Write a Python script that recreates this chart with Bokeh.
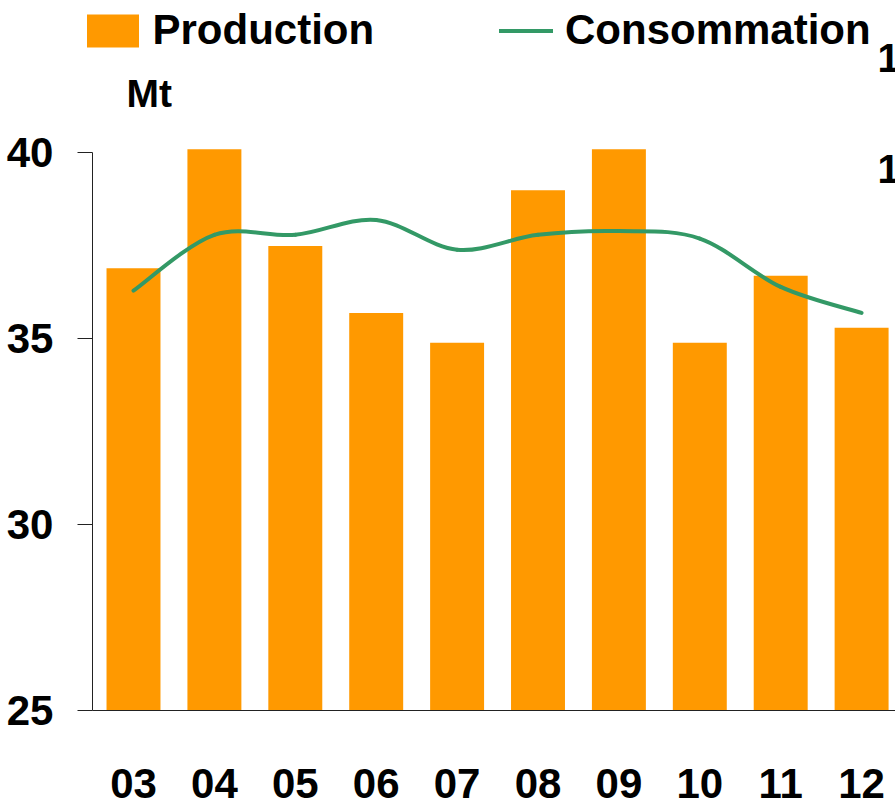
from bokeh.plotting import figure
from bokeh.models import (ColumnDataSource, Legend, LegendItem, Label,
                          FixedTicker, Range1d)
from bokeh.embed import file_html
from bokeh.resources import INLINE

# ---- data ----
years = ["03", "04", "05", "06", "07", "08", "09", "10", "11", "12"]
production = [36.9, 40.1, 37.5, 35.7, 34.9, 39.0, 40.1, 34.9, 36.7, 35.3]
consommation = [36.3, 37.8, 37.8, 38.2, 37.4, 37.8, 37.9, 37.7, 36.4, 35.7]
y_ticks = [25, 30, 35, 40]
unit_label = "Mt"
right_labels = ["1", "1"]

FONT = "Liberation Sans"
ORANGE = "#FF9900"
GREEN = "#339966"
AXIS = "#222222"

xs = list(range(len(years)))

W, H = 895, 808
# frame covers the whole canvas; axes are pinned with fixed_location
X0, X1 = -1.644, 9.419
Y0, Y1 = 22.379, 44.099
YAXIS_X = -0.507

p = figure(width=W, height=H,
           x_range=Range1d(X0, X1), y_range=Range1d(Y0, Y1),
           output_backend="svg", toolbar_location=None,
           min_border=0, min_border_left=0, min_border_right=0,
           min_border_top=0, min_border_bottom=0)
p.outline_line_color = None
p.xgrid.visible = False
p.ygrid.visible = False
p.background_fill_color = "white"
p.border_fill_color = "white"

bars = p.vbar(x=xs, top=production, bottom=y_ticks[0], width=0.667,
              fill_color=ORANGE, line_color=None)

# smoothed line (Bezier segments through the data points)
n = len(xs)
seg = dict(x0=[], y0=[], x1=[], y1=[], cx0=[], cy0=[], cx1=[], cy1=[])
for i in range(n - 1):
    im = i - 1 if i > 0 else i
    ip = i + 2 if i + 2 < n else i + 1
    seg["x0"].append(xs[i]); seg["y0"].append(consommation[i])
    seg["x1"].append(xs[i + 1]); seg["y1"].append(consommation[i + 1])
    seg["cx0"].append(xs[i] + (xs[i + 1] - xs[im]) / 6)
    seg["cy0"].append(consommation[i] + (consommation[i + 1] - consommation[im]) / 6)
    seg["cx1"].append(xs[i + 1] - (xs[ip] - xs[i]) / 6)
    seg["cy1"].append(consommation[i + 1] - (consommation[ip] - consommation[i]) / 6)
line = p.bezier(x0="x0", y0="y0", x1="x1", y1="y1", cx0="cx0", cy0="cy0",
                cx1="cx1", cy1="cy1", source=ColumnDataSource(seg),
                line_color=GREEN, line_width=4, line_cap="round")

# axes
xa = p.xaxis[0]
xa.fixed_location = y_ticks[0]
xa.bounds = (YAXIS_X, X1)
xa.ticker = FixedTicker(ticks=xs)
xa.major_label_overrides = {i: y for i, y in enumerate(years)}
xa.major_tick_out = 0
xa.major_tick_in = 0
xa.minor_tick_out = 0
xa.minor_tick_in = 0
xa.axis_line_color = AXIS
xa.major_label_standoff = 58
xa.major_label_text_font = FONT
xa.major_label_text_font_style = "bold"
xa.major_label_text_font_size = "42px"
xa.major_label_text_color = "black"

ya = p.yaxis[0]
ya.fixed_location = YAXIS_X
ya.ticker = FixedTicker(ticks=y_ticks)
ya.bounds = (y_ticks[0], y_ticks[-1])
ya.major_tick_out = 15
ya.major_tick_in = 0
ya.minor_tick_out = 0
ya.minor_tick_in = 0
ya.axis_line_color = AXIS
ya.major_tick_line_color = AXIS
ya.major_label_standoff = 24
ya.major_label_text_font = FONT
ya.major_label_text_font_style = "bold"
ya.major_label_text_font_size = "42px"
ya.major_label_text_color = "black"

# legends
common = dict(padding=0, margin=0, spacing=0, border_line_color=None,
              background_fill_alpha=0, label_text_font=FONT,
              label_text_font_style="bold", label_text_font_size="42px",
              label_text_color="black", label_text_line_height=0.8,
              orientation="horizontal", glyph_height=41, label_height=20)
leg1 = Legend(items=[LegendItem(label="Production", renderers=[bars])],
              location=(79.5, 754), glyph_width=65, label_standoff=8, **common)
leg2 = Legend(items=[LegendItem(label="Consommation", renderers=[line])],
              location=(499, 754), glyph_width=54, label_standoff=12, **common)
p.add_layout(leg1, "center")
p.add_layout(leg2, "center")

# unit label and cut-off secondary labels
p.add_layout(Label(x=126, y=H - 108 + 15, x_units="screen", y_units="screen",
                   text=unit_label, text_font=FONT, text_font_style="bold",
                   text_font_size="39px", text_color="black",
                   text_baseline="alphabetic"))
for t, yy in zip(right_labels, [72, 183]):
    p.add_layout(Label(x=877, y=H - yy + 15, x_units="screen", y_units="screen",
                       text=t, text_font=FONT, text_font_style="bold",
                       text_font_size="40px", text_color="black",
                       text_baseline="alphabetic"))

open("out.html", "w").write(file_html(p, INLINE))
